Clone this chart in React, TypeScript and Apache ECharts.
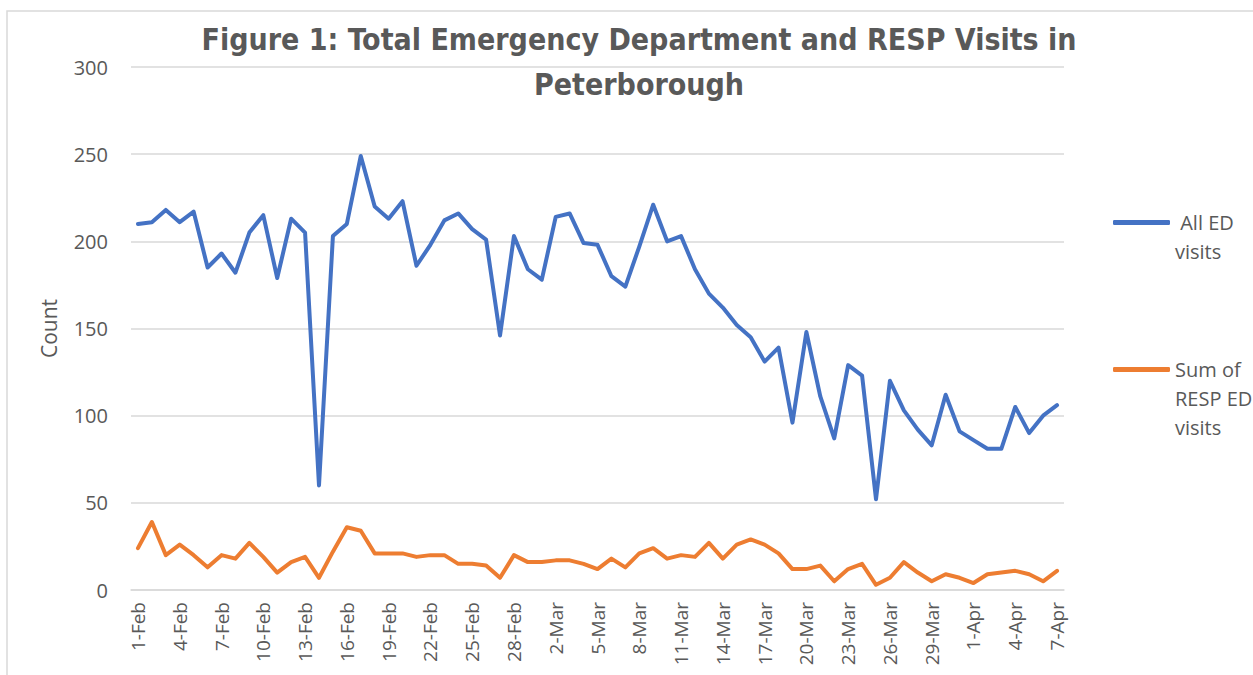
import React, { useEffect, useRef } from "react";
import * as echarts from "echarts";

const febDays = Array.from({ length: 29 }, (_, i) => `${i + 1}-Feb`);
const marDays = Array.from({ length: 31 }, (_, i) => `${i + 1}-Mar`);
const aprDays = Array.from({ length: 7 }, (_, i) => `${i + 1}-Apr`);
const categories = [...febDays, ...marDays, ...aprDays];

const allEdVisits = [
  210, 211, 218, 211, 217, 185, 193, 182, 205, 215, 179, 213, 205, 60, 203, 210, 249, 220, 213, 223, 186, 198, 212, 216, 207, 201, 146, 203, 184,
  178, 214, 216, 199, 198, 180, 174, 197, 221, 200, 203, 184, 170, 162, 152, 145, 131, 139, 96, 148, 111, 87, 129, 123, 52, 120, 103, 92, 83, 112, 91,
  86, 81, 81, 105, 90, 100, 106,
];

const respEdVisits = [
  24, 39, 20, 26, 20, 13, 20, 18, 27, 19, 10, 16, 19, 7, 22, 36, 34, 21, 21, 21, 19, 20, 20, 15, 15, 14, 7, 20, 16,
  16, 17, 17, 15, 12, 18, 13, 21, 24, 18, 20, 19, 27, 18, 26, 29, 26, 21, 12, 12, 14, 5, 12, 15, 3, 7, 16, 10, 5, 9, 7,
  4, 9, 10, 11, 9, 5, 11,
];

const yTicks = { min: 0, max: 300, interval: 50 };

const TITLE = "Figure 1: Total Emergency Department and RESP Visits in\nPeterborough";
const FONT = "'Open Sans', 'Noto Sans', sans-serif";
const TEXT_COLOR = "#595959";

export default function App() {
  const ref = useRef<HTMLDivElement>(null);

  useEffect(() => {
    if (!ref.current) return;
    const chart = echarts.init(ref.current, undefined, { renderer: "svg" });
    chart.setOption({
      animation: false,
      backgroundColor: "#ffffff",
      textStyle: { fontFamily: FONT },
      title: {
        text: TITLE,
        left: 634,
        top: 12,
        textAlign: "center",
        textStyle: {
          fontFamily: "'Liberation Sans Narrow', 'DejaVu Sans Condensed', 'Open Sans', sans-serif",
          fontSize: 30,
          fontWeight: "bold",
          color: TEXT_COLOR,
          lineHeight: 45,
        },
      },
      graphic: [
        {
          type: "rect",
          shape: { x: 7, y: 11, width: 1300, height: 700 },
          style: { fill: "none", stroke: "#d9d9d9", lineWidth: 1.5 },
          silent: true,
          z: -10,
        },
      ],
      legend: [
        {
          data: ["All ED visits"],
          left: 1108,
          top: 174,
          icon: "roundRect",
          itemWidth: 57,
          itemHeight: 5,
          formatter: () => "\n All ED\nvisits",
          textStyle: {
            fontFamily: FONT,
            fontSize: 20,
            color: TEXT_COLOR,
            lineHeight: 29,
          },
        },
        {
          data: ["Sum of RESP ED visits"],
          left: 1108,
          top: 292,
          icon: "roundRect",
          itemWidth: 57,
          itemHeight: 5,
          formatter: () => "\n\nSum of\nRESP ED\nvisits",
          textStyle: {
            fontFamily: FONT,
            fontSize: 20,
            color: TEXT_COLOR,
            lineHeight: 29,
          },
        },
      ],
      grid: { left: 131, right: 189, top: 67, bottom: 85, containLabel: false },
      xAxis: {
        type: "category",
        data: categories,
        boundaryGap: true,
        axisLine: { show: true, lineStyle: { color: "#d9d9d9", width: 1.5 } },
        axisTick: { show: false },
        axisLabel: {
          interval: 2,
          rotate: 90,
          margin: 12,
          fontFamily: FONT,
          fontSize: 19,
          color: TEXT_COLOR,
        },
      },
      yAxis: {
        type: "value",
        min: yTicks.min,
        max: yTicks.max,
        interval: yTicks.interval,
        name: "Count",
        nameLocation: "middle",
        nameGap: 72,
        nameRotate: 90,
        nameTextStyle: { fontFamily: FONT, fontSize: 21, color: TEXT_COLOR },
        axisLine: { show: false },
        axisTick: { show: false },
        axisLabel: { margin: 23, fontFamily: FONT, fontSize: 20, color: TEXT_COLOR },
        splitLine: { lineStyle: { color: "#d9d9d9", width: 1.5 } },
      },
      series: [
        {
          name: "All ED visits",
          type: "line",
          data: allEdVisits,
          showSymbol: false,
          symbol: "none",
          lineStyle: { color: "#4472C4", width: 4, cap: "round", join: "round" },
          itemStyle: { color: "#4472C4" },
        },
        {
          name: "Sum of RESP ED visits",
          type: "line",
          data: respEdVisits,
          showSymbol: false,
          symbol: "none",
          lineStyle: { color: "#ED7D31", width: 4, cap: "round", join: "round" },
          itemStyle: { color: "#ED7D31" },
        },
      ],
    });
    return () => chart.dispose();
  }, []);

  return (
    <div
      ref={ref}
      style={{ position: "fixed", left: 0, top: 0, width: 1253, height: 675 }}
    />
  );
}
